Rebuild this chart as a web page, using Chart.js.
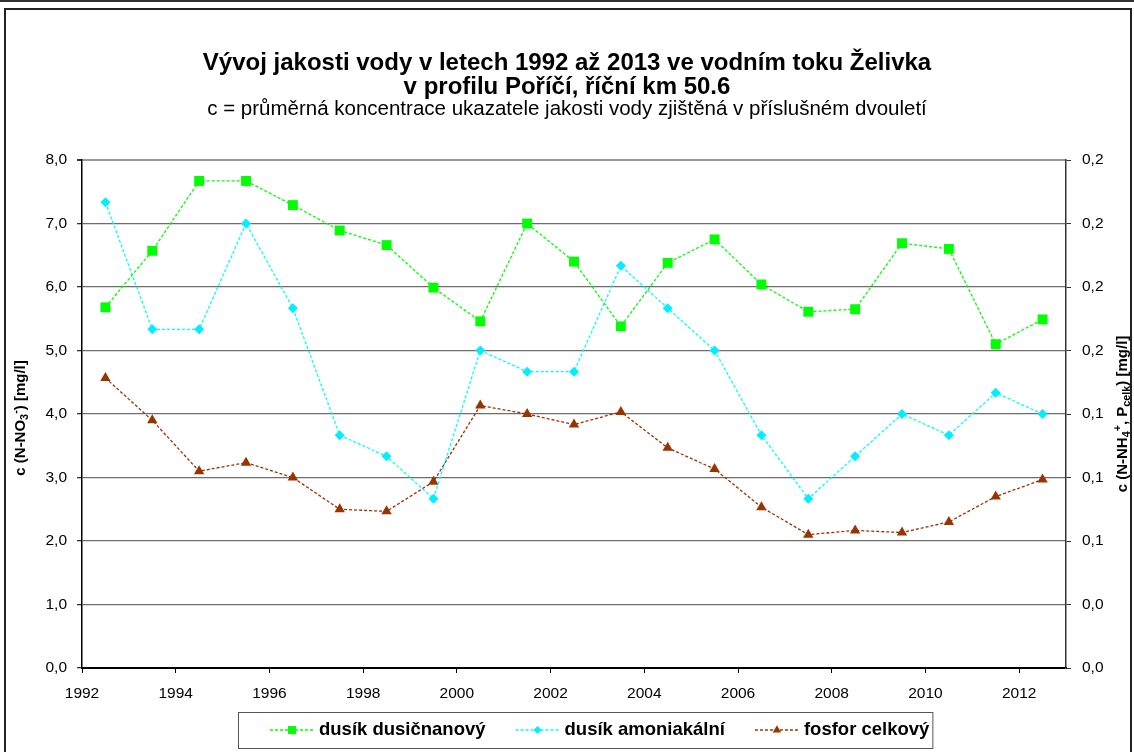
<!DOCTYPE html>
<html>
<head>
<meta charset="utf-8">
<script src="https://cdn.jsdelivr.net/npm/chart.js@4.4.1/dist/chart.umd.min.js"></script>
<style>
  html, body { margin: 0; padding: 0; background: #fff; }
  #wrap { position: relative; width: 1134px; height: 752px; overflow: hidden; }
  #topline { position: absolute; left: 0; top: 0; width: 1134px; height: 2px; background: #333; }
  #frame { position: absolute; left: 4px; top: 8px; width: 1124px; height: 800px; border: 2px solid #222; }
  canvas { position: absolute; left: 0; top: 0; }
</style>
</head>
<body>
<div id="wrap">
  <div id="topline"></div>
  <div id="frame"></div>
  <canvas id="graf" width="1134" height="752"></canvas>
</div>
<script>
// dvouleti - bod uprostred obdobi
const roky = [1992.5, 1993.5, 1994.5, 1995.5, 1996.5, 1997.5, 1998.5, 1999.5, 2000.5, 2001.5, 2002.5,
              2003.5, 2004.5, 2005.5, 2006.5, 2007.5, 2008.5, 2009.5, 2010.5, 2011.5, 2012.5];

// leva osa [mg/l]
const dusicnanovy = [5.68, 6.57, 7.67, 7.67, 7.29, 6.89, 6.66, 5.99, 5.46, 7.00, 6.40,
                     5.38, 6.38, 6.75, 6.04, 5.61, 5.65, 6.69, 6.60, 5.10, 5.49];
// prava osa [mg/l]
const amoniakalni = [0.22, 0.16, 0.16, 0.21, 0.17, 0.11, 0.10, 0.08, 0.15, 0.14, 0.14,
                     0.19, 0.17, 0.15, 0.11, 0.08, 0.10, 0.12, 0.11, 0.13, 0.12];
const fosforCelk = [0.137, 0.117, 0.093, 0.097, 0.090, 0.075, 0.074, 0.088, 0.124, 0.120, 0.115,
                    0.121, 0.104, 0.094, 0.076, 0.063, 0.065, 0.064, 0.069, 0.081, 0.089];

const xTicks = [1992, 1994, 1996, 1998, 2000, 2002, 2004, 2006, 2008, 2010, 2012];
const leftTicks = [0, 1, 2, 3, 4, 5, 6, 7, 8];
const rightTicks = [0, 0.03, 0.06, 0.09, 0.12, 0.15, 0.18, 0.21, 0.24];
const rightTickLabels = ['0,0', '0,0', '0,1', '0,1', '0,1', '0,2', '0,2', '0,2', '0,2'];

const labels = ['dusík dusičnanový', 'dusík amoniakální', 'fosfor celkový'];

Chart.defaults.font.family = "'Liberation Sans', Arial, sans-serif";
Chart.defaults.color = '#000';

function body(arr) {
  return roky.map((r, i) => ({ x: r, y: arr[i] }));
}

// text s indexy (dolni/horni), otoceny o 90 st.
function richText(ctx, parts, cx, cy, size) {
  ctx.save();
  ctx.translate(cx, cy);
  ctx.rotate(-Math.PI / 2);
  ctx.textBaseline = 'middle';
  ctx.textAlign = 'left';
  ctx.fillStyle = '#000';
  let total = 0;
  parts.forEach(p => {
    ctx.font = 'bold ' + (p.s ? size * 0.72 : size) + "px 'Liberation Sans', Arial, sans-serif";
    p.w = ctx.measureText(p.t).width;
    total += p.w;
  });
  let x = -total / 2;
  parts.forEach(p => {
    ctx.font = 'bold ' + (p.s ? size * 0.72 : size) + "px 'Liberation Sans', Arial, sans-serif";
    let dy = 0;
    if (p.s == 'sub') dy = size * 0.3;
    if (p.s == 'sup') dy = -size * 0.35;
    ctx.fillText(p.t, x, dy);
    x += p.w;
  });
  ctx.restore();
}

const extras = {
  id: 'extras',
  afterDraw(chart) {
    const ctx = chart.ctx;
    const area = chart.chartArea;
    const midY = (area.top + area.bottom) / 2;

    richText(ctx, [{ t: 'c (N-NO' }, { t: '3', s: 'sub' }, { t: '-', s: 'sup' }, { t: ') [mg/l]' }], 21, midY + 4, 15);
    richText(ctx, [{ t: 'c (N-NH' }, { t: '4', s: 'sub' }, { t: '+', s: 'sup' }, { t: ', P' },
                   { t: 'celk', s: 'sub' }, { t: ') [mg/l]' }], 1123, midY, 15);

    // legenda
    const ly = 730;
    let x = 270;
    ctx.save();
    ctx.font = "bold 18.5px 'Liberation Sans', Arial, sans-serif";
    ctx.textBaseline = 'middle';
    chart.data.datasets.forEach((ds, i) => {
      ctx.strokeStyle = ds.borderColor;
      ctx.lineWidth = 1.3;
      ctx.setLineDash(ds.borderDash);
      ctx.beginPath();
      ctx.moveTo(x, ly);
      ctx.lineTo(x + 45, ly);
      ctx.stroke();
      ctx.setLineDash([]);
      ctx.fillStyle = ds.pointBackgroundColor;
      ctx.strokeStyle = ds.pointBackgroundColor;
      Chart.helpers.drawPoint(ctx, { pointStyle: ds.pointStyle, radius: ds.pointRadius * 0.8, rotation: 0, borderWidth: 0 }, x + 22, ly);
      ctx.fillStyle = '#000';
      ctx.fillText(ds.label, x + 49, ly);
      x += 49 + ctx.measureText(ds.label).width + 30;
    });
    ctx.strokeStyle = '#555';
    ctx.lineWidth = 1;
    ctx.strokeRect(238.5, 712.5, x - 30 + 3 - 238, 36);
    ctx.restore();
  }
};

new Chart(document.getElementById('graf'), {
  type: 'line',
  data: {
    datasets: [
      {
        label: labels[0],
        data: body(dusicnanovy),
        yAxisID: 'y',
        borderColor: '#00ff00',
        borderWidth: 1.3,
        borderDash: [3, 2],
        pointStyle: 'rect',
        pointRadius: 7,
        pointBorderWidth: 0,
        pointBackgroundColor: '#00ff00'
      },
      {
        label: labels[1],
        data: body(amoniakalni),
        yAxisID: 'y1',
        borderColor: '#00ffff',
        borderWidth: 1.3,
        borderDash: [3, 2],
        pointStyle: 'rectRot',
        pointRadius: 5,
        pointBorderWidth: 0,
        pointBackgroundColor: '#00eeff'
      },
      {
        label: labels[2],
        data: body(fosforCelk),
        yAxisID: 'y1',
        borderColor: '#993300',
        borderWidth: 1.3,
        borderDash: [3, 2],
        pointStyle: 'triangle',
        pointRadius: 6,
        pointBorderWidth: 0,
        pointBackgroundColor: '#993300'
      }
    ]
  },
  options: {
    responsive: false,
    animation: false,
    layout: { padding: 0 },
    elements: { line: { tension: 0 } },
    plugins: {
      legend: { display: false },
      tooltip: { enabled: false },
      title: {
        display: true,
        text: ['Vývoj jakosti vody v letech 1992 až 2013 ve vodním toku Želivka', 'v profilu Poříčí, říční km 50.6'],
        font: { size: 24, weight: 'bold', lineHeight: 1 },
        color: '#000',
        padding: { top: 51, bottom: 0 }
      },
      subtitle: {
        display: true,
        text: 'c = průměrná koncentrace ukazatele jakosti vody zjištěná v příslušném dvouletí',
        font: { size: 20.5, lineHeight: 1 },
        color: '#000',
        padding: { top: 0, bottom: 40.5 }
      }
    },
    scales: {
      x: {
        type: 'linear',
        min: 1992,
        max: 2013,
        afterBuildTicks: s => { s.ticks = xTicks.map(v => ({ value: v })); },
        afterFit: s => { s.height = 84; },
        ticks: { callback: v => String(v), font: { size: 15.5 }, padding: 11, maxRotation: 0 },
        grid: { drawOnChartArea: false, tickLength: 5, color: '#000' },
        border: { color: '#000', width: 2 }
      },
      y: {
        position: 'left',
        min: 0,
        max: 8,
        afterBuildTicks: s => { s.ticks = leftTicks.map(v => ({ value: v })); },
        afterFit: s => { s.width = 82; },
        ticks: { callback: v => v.toFixed(1).replace('.', ','), font: { size: 15.5 }, padding: 10 },
        grid: {
          color: c => (c.tick && c.tick.value == 8) ? '#9a9a9a' : '#6e6e6e',
          lineWidth: c => (c.tick && c.tick.value == 8) ? 2 : 1.3,
          tickLength: 5,
          tickColor: '#333'
        },
        border: { color: '#000', width: 1.5 }
      },
      y1: {
        position: 'right',
        min: 0,
        max: 0.24,
        afterBuildTicks: s => { s.ticks = rightTicks.map(v => ({ value: v })); },
        afterFit: s => { s.width = 68; },
        ticks: { callback: (v, i) => rightTickLabels[i], font: { size: 15.5 }, padding: 11 },
        grid: { drawOnChartArea: false, tickLength: 5, color: '#333' },
        border: { color: '#333', width: 1.5 }
      }
    }
  },
  plugins: [extras]
});
</script>
</body>
</html>
